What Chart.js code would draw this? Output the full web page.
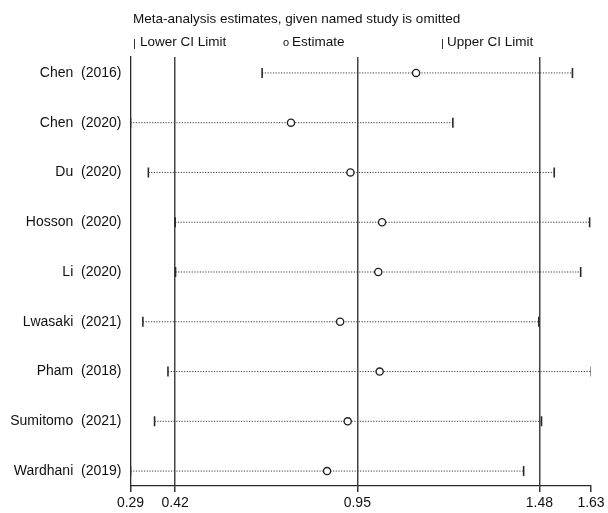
<!DOCTYPE html>
<html lang="en">
<head>
  <meta charset="UTF-8" />
  <title>Meta-analysis sensitivity plot</title>
  <script src="https://cdn.jsdelivr.net/npm/chart.js"></script>
  <style>
    body {
      margin: 0;
      background-color: #ffffff;
    }
    .wrap {
      position: relative;
      width: 608px;
      height: 513px;
    }
    .txt {
      position: absolute;
      font-family: "Liberation Sans", Arial, sans-serif;
      font-size: 13.5px;
      line-height: 16px;
      color: #111;
      white-space: nowrap;
    }
    .mark {
      font-size: 11px;
    }
  </style>
</head>
<body>
  <div class="wrap">
    <canvas id="sensChart" width="608" height="513"></canvas>
    <div class="txt" style="left:133px; top:11px;">Meta-analysis estimates, given named study is omitted</div>
    <div class="txt mark" style="left:133px; top:35px;">|</div>
    <div class="txt" style="left:140px; top:34px;">Lower CI Limit</div>
    <div class="txt mark" style="left:283px; top:34px;">o</div>
    <div class="txt" style="left:292px; top:34px;">Estimate</div>
    <div class="txt mark" style="left:441px; top:35px;">|</div>
    <div class="txt" style="left:447px; top:34px;">Upper CI Limit</div>
  </div>

  <script>
    const studies = ['Chen  (2016)', 'Chen  (2020)', 'Du  (2020)', 'Hosson  (2020)', 'Li  (2020)',
                     'Lwasaki  (2021)', 'Pham  (2018)', 'Sumitomo  (2021)', 'Wardhani  (2019)'];
    const lower    = [0.673, 0.29, 0.342, 0.420, 0.421, 0.326, 0.399, 0.360, 0.29];
    const estimate = [1.121, 0.757, 0.930, 1.022, 1.011, 0.900, 1.015, 0.922, 0.862];
    const upper    = [1.576, 1.228, 1.523, 1.626, 1.600, 1.478, 1.631, 1.486, 1.434];
    const xTicks = [0.29, 0.42, 0.95, 1.48, 1.63];
    const xTickLabels = ['0.29', '0.42', '0.95', '1.48', '1.63'];
    const refLines = [0.42, 0.95, 1.48];

    const font = { family: '"Liberation Sans", Arial, sans-serif', size: 14 };

    // one dotted line per study, lower -> upper
    const ciSets = studies.map((s, i) => ({
      type: 'line',
      data: [{ x: lower[i], y: i }, { x: upper[i], y: i }],
      borderColor: '#3a3a3a',
      borderWidth: 1,
      borderDash: [1.2, 1.5],
      pointRadius: 0,
      order: 3
    }));

    const capStyle = {
      type: 'scatter',
      pointStyle: 'line',
      rotation: 90,
      pointRadius: 5,
      pointBorderWidth: 1.6,
      pointBorderColor: '#2a2a2a',
      order: 2
    };

    new Chart(document.getElementById('sensChart'), {
      data: {
        datasets: [
          ...ciSets,
          { ...capStyle, data: lower.map((v, i) => ({ x: v, y: i })) },
          { ...capStyle, data: upper.map((v, i) => ({ x: v, y: i })) },
          {
            type: 'scatter',
            data: estimate.map((v, i) => ({ x: v, y: i })),
            pointStyle: 'circle',
            pointRadius: 3.6,
            pointBorderWidth: 1.4,
            pointBorderColor: '#222',
            pointBackgroundColor: '#fff',
            order: 1
          }
        ]
      },
      options: {
        responsive: false,
        animation: false,
        layout: { padding: { top: 57, right: 17, left: 0, bottom: 0 } },
        plugins: {
          legend: { display: false },
          tooltip: { enabled: false }
        },
        scales: {
          x: {
            type: 'linear',
            min: 0.29,
            max: 1.63,
            afterBuildTicks: s => { s.ticks = xTicks.map(v => ({ value: v })); },
            afterFit: s => { s.height = 27; s.paddingLeft = 0; s.paddingRight = 0; },
            ticks: {
              font: font,
              color: '#111',
              padding: 3,
              maxRotation: 0,
              callback: (v, i) => xTickLabels[i]
            },
            grid: {
              color: c => (c.tick && refLines.includes(c.tick.value)) ? '#444' : 'rgba(0,0,0,0)',
              lineWidth: 1.5,
              tickColor: '#333',
              tickLength: 6
            },
            border: { display: true, color: '#2a2a2a', width: 1.3 }
          },
          y: {
            type: 'linear',
            min: -0.32,
            max: 8.3,
            reverse: true,
            afterBuildTicks: s => { s.ticks = studies.map((n, i) => ({ value: i })); },
            afterFit: s => { s.width = 130.5; s.paddingTop = 0; s.paddingBottom = 0; },
            ticks: {
              font: font,
              color: '#111',
              padding: 9,
              callback: v => studies[v]
            },
            grid: { display: false, drawTicks: false },
            border: { display: true, color: '#2a2a2a', width: 1.3 }
          }
        }
      }
    });
  </script>
</body>
</html>
